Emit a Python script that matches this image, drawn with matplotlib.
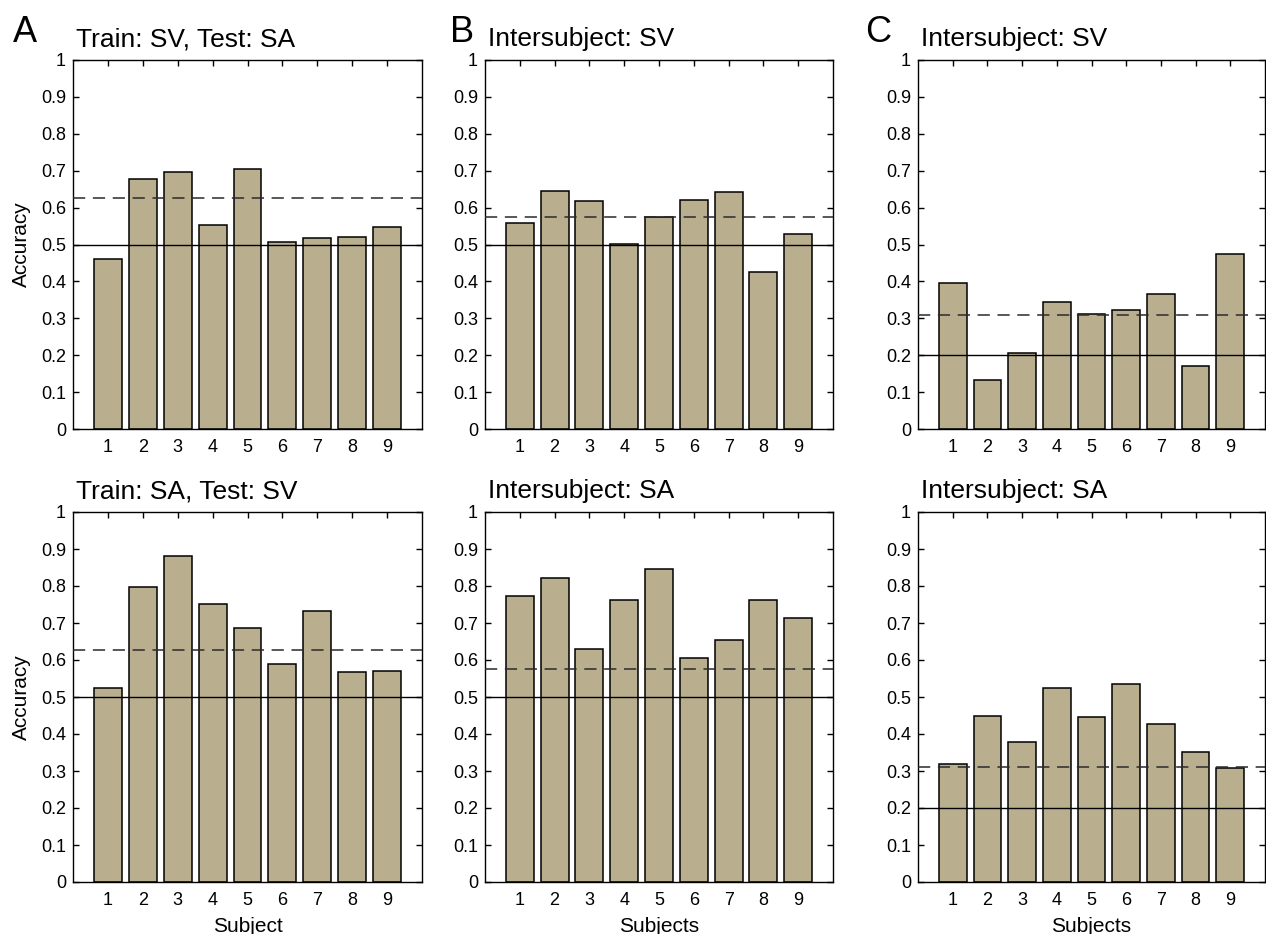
import matplotlib
matplotlib.use("Agg")
import matplotlib.pyplot as plt
import numpy as np

# --- Data ---
subjects = [1, 2, 3, 4, 5, 6, 7, 8, 9]

a_top = [0.462, 0.678, 0.697, 0.553, 0.705, 0.507, 0.517, 0.521, 0.547]
a_bot = [0.523, 0.797, 0.881, 0.751, 0.687, 0.588, 0.732, 0.568, 0.571]
b_top = [0.559, 0.645, 0.618, 0.502, 0.575, 0.621, 0.641, 0.425, 0.528]
b_bot = [0.774, 0.822, 0.630, 0.763, 0.846, 0.606, 0.653, 0.763, 0.714]
c_top = [0.396, 0.133, 0.207, 0.343, 0.311, 0.323, 0.365, 0.171, 0.475]
c_bot = [0.319, 0.448, 0.378, 0.525, 0.446, 0.535, 0.428, 0.351, 0.309]

chance = [0.5, 0.5, 0.2]          # per column (A, B, C)
threshold = [0.627, 0.575, 0.31]  # dashed significance lines

titles_top = ["Train: SV, Test: SA", "Intersubject: SV", "Intersubject: SV"]
titles_bot = ["Train: SA, Test: SV", "Intersubject: SA", "Intersubject: SA"]
xlabels = ["Subject", "Subjects", "Subjects"]
letters = ["A", "B", "C"]
ytick_labels = ["0", "0.1", "0.2", "0.3", "0.4", "0.5", "0.6", "0.7", "0.8", "0.9", "1"]

BAR_COLOR = "#b9af8f"
plt.rcParams["font.family"] = ["Liberation Sans", "DejaVu Sans"]

W, H = 1266, 934
fig = plt.figure(figsize=(W / 100, H / 100), dpi=100)

lefts = [73, 485, 918]
widths = [349, 348, 347]
rows = [(60, 429), (512, 882)]  # (top, bottom) in pixels

data = [[a_top, b_top, c_top], [a_bot, b_bot, c_bot]]
titles = [titles_top, titles_bot]


def style_axes(ax):
    ax.set_xlim(0, 10)
    ax.set_ylim(0, 1)
    ax.set_xticks(subjects)
    ax.set_yticks(np.round(np.arange(0, 1.01, 0.1), 1))
    ax.set_yticklabels(ytick_labels)
    ax.tick_params(direction="in", length=4, width=1, top=True, right=True,
                   labelsize=13, pad=5)
    ax.tick_params(axis="x", pad=7)
    for sp in ax.spines.values():
        sp.set_linewidth(1.0)


for r, (top, bot) in enumerate(rows):
    for c in range(3):
        ax = fig.add_axes([lefts[c] / W, 1 - bot / H, widths[c] / W, (bot - top) / H])
        ax.bar(subjects, data[r][c], width=0.8, color=BAR_COLOR,
               edgecolor="black", linewidth=1.1, zorder=2)
        ax.axhline(chance[c], color="black", linewidth=1.0, zorder=3)
        ax.axhline(threshold[c], color="#2a2a2a", linewidth=1.1,
                   linestyle=(0, (8, 5)), zorder=3)
        style_axes(ax)
        ax.text(0.01, 1 + 14 / (bot - top), titles[r][c], transform=ax.transAxes,
                fontsize=19, ha="left", va="baseline")
        if c == 0:
            ax.set_ylabel("Accuracy", fontsize=15, labelpad=7)
        if r == 1:
            ax.set_xlabel(xlabels[c], fontsize=15, labelpad=6)
        if r == 0:
            fig.text([13, 450, 865][c] / W, 1 - 42 / H, letters[c],
                     fontsize=26, ha="left", va="baseline")

fig.savefig("out.png", dpi=100)
